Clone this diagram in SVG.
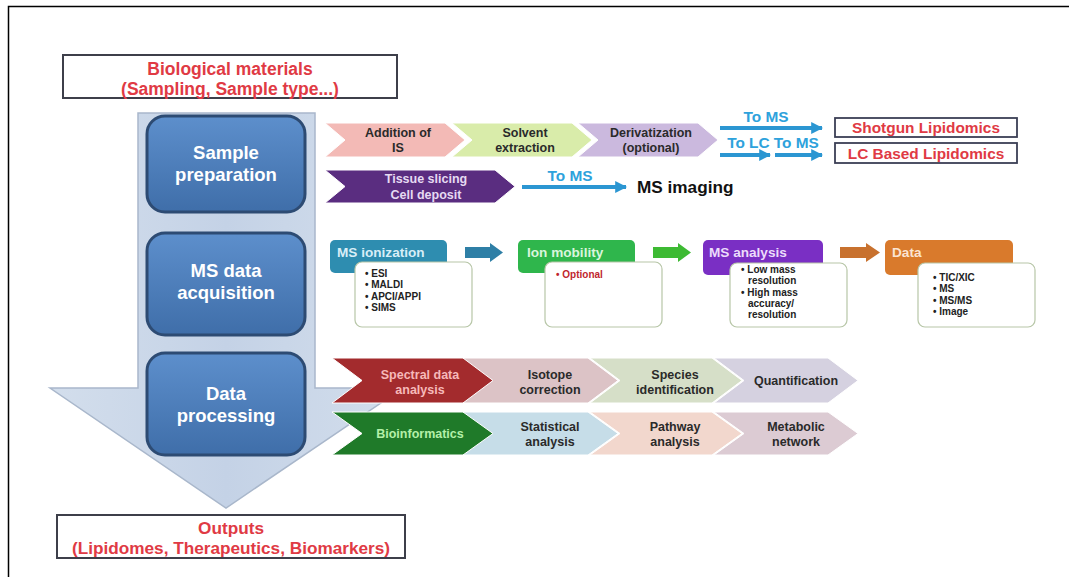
<svg xmlns="http://www.w3.org/2000/svg" width="1069" height="577" viewBox="0 0 1069 577">
<defs>
<linearGradient id="gBlue" x1="0" y1="0" x2="0" y2="1">
<stop offset="0" stop-color="#5d8fcc"/><stop offset="1" stop-color="#3f6ea9"/>
</linearGradient>
<linearGradient id="gBig" x1="0" y1="0" x2="1" y2="0">
<stop offset="0" stop-color="#d3deec"/><stop offset="0.5" stop-color="#c4d2e6"/><stop offset="1" stop-color="#d3deec"/>
</linearGradient>
<style>
text{font-family:"Liberation Sans",Arial,sans-serif;font-weight:bold}
.red{fill:#e03a44}
.box{fill:#fff;stroke:#3d3f4a;stroke-width:2}
.stage{stroke:#2d4b73;stroke-width:3;fill:url(#gBlue)}
.stageT{fill:#fff;font-size:18.5px;text-anchor:middle}
.chev{stroke:#fff;stroke-width:1}
.ct{font-size:12.5px;text-anchor:middle;fill:#2a2a2a}
.hdr{font-size:13.6px}
.lst{fill:#fff;stroke:#b7c6a7;stroke-width:1.2}
.li{font-size:10px;fill:#222}
.bl{fill:#2ea2dc;font-size:15.4px;text-anchor:middle}
.sb{fill:#fff;stroke:#3b3f55;stroke-width:1.8}
.cn{stroke:#2b96d2;stroke-width:4;fill:none}
</style>
<marker id="ah" viewBox="0 0 10 10" refX="9" refY="5" markerWidth="3" markerHeight="3" orient="auto">
<path d="M0,0 L10,5 L0,10 z" fill="#2b96d2"/>
</marker>
</defs>
<rect width="1069" height="577" fill="#fff"/>
<path d="M8.5,577 V6.5 H1069" fill="none" stroke="#000" stroke-width="1.5"/>

<g id="bigArrow">
<path d="M138,113 H315 V388 H403 L226,508 L50,388 H138 Z" fill="url(#gBig)" stroke="#a9b7cb" stroke-width="1.5"/>
</g>

<g id="bio">
<rect class="box" x="63" y="55" width="334" height="43"/>
<text class="red" x="230" y="75" font-size="17.5" text-anchor="middle">Biological materials</text>
<text class="red" x="230" y="95" font-size="17.5" text-anchor="middle">(Sampling, Sample type...)</text>
</g>

<g id="outputs">
<rect class="box" x="57" y="515" width="348" height="43"/>
<text class="red" x="231" y="533.5" font-size="17.2" text-anchor="middle">Outputs</text>
<text class="red" x="231" y="553.5" font-size="17.2" text-anchor="middle">(Lipidomes, Therapeutics, Biomarkers)</text>
</g>

<g id="samplePrep">
<rect class="stage" x="147" y="116" width="158" height="96" rx="18"/>
<text class="stageT" x="226" y="159">Sample</text>
<text class="stageT" x="226" y="181">preparation</text>
</g>
<g id="msAcq">
<rect class="stage" x="147" y="233" width="158" height="102" rx="18"/>
<text class="stageT" x="226" y="277">MS data</text>
<text class="stageT" x="226" y="299">acquisition</text>
</g>
<g id="dataProc">
<rect class="stage" x="147" y="353" width="158" height="102" rx="18"/>
<text class="stageT" x="226" y="400">Data</text>
<text class="stageT" x="226" y="422">processing</text>
</g>

<!-- sample preparation chevrons -->
<g id="additionIS">
<path class="chev" d="M325,123 H445 L465,140 L445,157 H325 L345,140 Z" fill="#f3bab6"/>
<text class="ct" x="398" y="137">Addition of</text>
<text class="ct" x="398" y="152">IS</text>
</g>
<g id="solvent">
<path class="chev" d="M452,123 H572 L592,140 L572,157 H452 L472,140 Z" fill="#d9ecaa"/>
<text class="ct" x="525" y="137">Solvent</text>
<text class="ct" x="525" y="152">extraction</text>
</g>
<g id="deriv">
<path class="chev" d="M578,123 H698 L718,140 L698,157 H578 L598,140 Z" fill="#cbb9de"/>
<text class="ct" x="651" y="137">Derivatization</text>
<text class="ct" x="651" y="152">(optional)</text>
</g>
<g id="tissue">
<path class="chev" d="M325,170 H495 L515,186.5 L495,203 H325 L345,186.5 Z" fill="#5a2d80"/>
<text class="ct" x="426" y="183" style="fill:#e6daf2">Tissue slicing</text>
<text class="ct" x="426" y="199" style="fill:#e6daf2">Cell deposit</text>
</g>
<g id="shotgun">
<rect class="sb" x="835" y="118" width="182" height="19"/>
<text class="red" x="926" y="133" font-size="15.4" text-anchor="middle">Shotgun Lipidomics</text>
</g>
<g id="lcBased">
<rect class="sb" x="835" y="143" width="182" height="20"/>
<text class="red" x="926" y="158.5" font-size="15.4" text-anchor="middle">LC Based Lipidomics</text>
</g>
<g id="msImaging">
<text x="637" y="193" font-size="17.2" fill="#111">MS imaging</text>
</g>

<!-- MS data acquisition row -->
<g id="msIon">
<rect x="330" y="240" width="117" height="33" rx="5" fill="#2e8db0"/>
<text class="hdr" x="337" y="257" fill="#d8eef7">MS ionization</text>
<rect class="lst" x="355" y="262" width="117" height="65" rx="7"/>
<text class="li" x="365" y="277">• ESI</text>
<text class="li" x="365" y="288.3">• MALDI</text>
<text class="li" x="365" y="299.6">• APCI/APPI</text>
<text class="li" x="365" y="310.9">• SIMS</text>
</g>
<g id="ionMob">
<rect x="518" y="240" width="117" height="33" rx="5" fill="#2fb64c"/>
<text class="hdr" x="527" y="257" fill="#d9f5dc">Ion mobility</text>
<rect class="lst" x="545" y="262" width="117" height="65" rx="7"/>
<text class="li" x="556" y="278" style="fill:#c0262e">• Optional</text>
</g>
<g id="msAnal">
<rect x="703" y="240" width="120" height="35" rx="5" fill="#7a2fc4"/>
<text class="hdr" x="709" y="257" fill="#ecdcfb">MS analysis</text>
<rect class="lst" x="730" y="263" width="117" height="64" rx="7"/>
<text class="li" x="741" y="273">• Low mass</text>
<text class="li" x="748" y="284.3">resolution</text>
<text class="li" x="741" y="295.6">• High mass</text>
<text class="li" x="748" y="306.9">accuracy/</text>
<text class="li" x="748" y="318.2">resolution</text>
</g>
<g id="dataOut">
<rect x="885" y="240" width="128" height="35" rx="5" fill="#d97a2c"/>
<text class="hdr" x="892" y="257" fill="#fbe4d2">Data</text>
<rect class="lst" x="918" y="263" width="117" height="64" rx="7"/>
<text class="li" x="933" y="281">• TIC/XIC</text>
<text class="li" x="933" y="292.3">• MS</text>
<text class="li" x="933" y="303.6">• MS/MS</text>
<text class="li" x="933" y="314.9">• Image</text>
</g>

<!-- data processing chevrons -->
<g id="spectral">
<path class="chev" d="M332,358 H465 L495,380.5 L465,403 H332 L362,380.5 Z" fill="#a32b2d"/>
<text class="ct" x="420" y="379" style="fill:#f6b9b9">Spectral data</text>
<text class="ct" x="420" y="394" style="fill:#f6b9b9">analysis</text>
</g>
<g id="isotope">
<path class="chev" d="M463,358 H588 L618,380.5 L588,403 H463 L493,380.5 Z" fill="#dcc3c6"/>
<text class="ct" x="550" y="379">Isotope</text>
<text class="ct" x="550" y="394">correction</text>
</g>
<g id="species">
<path class="chev" d="M590,358 H712 L742,380.5 L712,403 H590 L620,380.5 Z" fill="#d6dfc8"/>
<text class="ct" x="675" y="379">Species</text>
<text class="ct" x="675" y="394">identification</text>
</g>
<g id="quant">
<path class="chev" d="M714,358 H828 L858,380.5 L828,403 H714 L744,380.5 Z" fill="#d5d1e0"/>
<text class="ct" x="796" y="385">Quantification</text>
</g>
<g id="bioinf">
<path class="chev" d="M332,412 H465 L495,433.5 L465,455 H332 L362,433.5 Z" fill="#1f7a29"/>
<text class="ct" x="420" y="438" style="fill:#b4f0a8">Bioinformatics</text>
</g>
<g id="statistical">
<path class="chev" d="M463,412 H588 L618,433.5 L588,455 H463 L493,433.5 Z" fill="#c6dde8"/>
<text class="ct" x="550" y="431">Statistical</text>
<text class="ct" x="550" y="446">analysis</text>
</g>
<g id="pathway">
<path class="chev" d="M590,412 H712 L742,433.5 L712,455 H590 L620,433.5 Z" fill="#f2d7cd"/>
<text class="ct" x="675" y="431">Pathway</text>
<text class="ct" x="675" y="446">analysis</text>
</g>
<g id="metabolic">
<path class="chev" d="M714,412 H828 L858,433.5 L828,455 H714 L744,433.5 Z" fill="#dccbd3"/>
<text class="ct" x="796" y="431">Metabolic</text>
<text class="ct" x="796" y="446">network</text>
</g>

<g id="connectors">
<line class="cn" x1="720" y1="128" x2="822" y2="128" marker-end="url(#ah)"/>
<line class="cn" x1="720" y1="155" x2="770" y2="155" marker-end="url(#ah)"/>
<line class="cn" x1="775" y1="155" x2="822" y2="155" marker-end="url(#ah)"/>
<line class="cn" x1="522" y1="187" x2="626" y2="187" marker-end="url(#ah)"/>
<text class="bl" x="766" y="122">To MS</text>
<text class="bl" x="773" y="148">To LC To MS</text>
<text class="bl" x="570" y="181">To MS</text>
<path d="M465,247 H490 V243 L503,252.5 L490,262 V258 H465 Z" fill="#2e7fa6"/>
<path d="M653,247 H678 V243 L691,252.5 L678,262 V258 H653 Z" fill="#3dba33"/>
<path d="M840,247 H866 V243 L880,252.5 L866,262 V258 H840 Z" fill="#c8712e"/>
</g>
</svg>
